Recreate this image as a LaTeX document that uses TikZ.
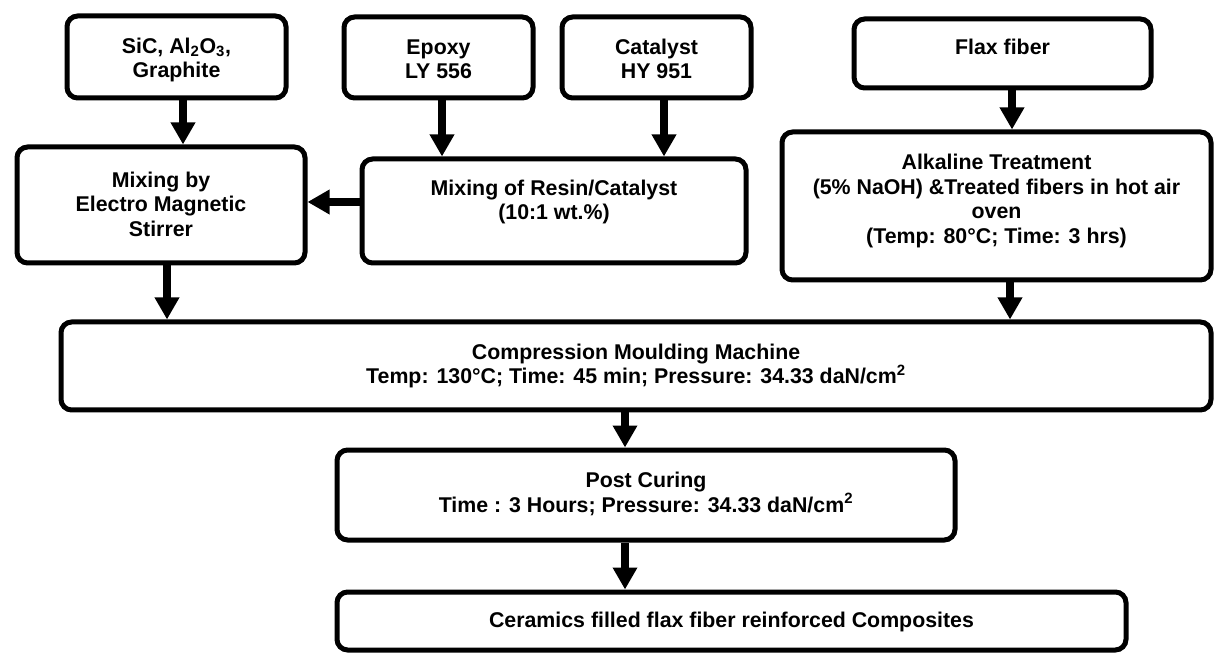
\documentclass[tikz,border=0pt]{standalone}
\usepackage{fontspec}
\setmainfont{Liberation Sans}
\usetikzlibrary{arrows.meta,fit}
\begin{document}
\begin{tikzpicture}[x=0.75pt,y=-0.75pt,
  box/.style={draw=black, line width=3.75pt, rounded corners=8pt, inner sep=0pt, fill=white},
  txt/.style={font=\bfseries\fontsize{16}{18.3}\selectfont, align=center, inner sep=0pt},
  flow/.style={draw=black, line width=6.4pt, -{Triangle[length=16.5pt,width=17.5pt]}}]
\useasboundingbox (0,0) rectangle (1216,655);

% raw materials
\node[box, fit={(67,16)(286,98)}] (sic) {};
\node[txt] (sic-t) at (176.5,60) {SiC, Al\textsubscript{2}O\textsubscript{3},\\Graphite};
\node[box, fit={(344,17)(533,98)}] (epoxy) {};
\node[txt] (epoxy-t) at (438.5,59) {Epoxy\\LY 556};
\node[box, fit={(562,17)(751,98)}] (cat) {};
\node[txt] (cat-t) at (656.5,59) {Catalyst\\HY 951};
\node[box, fit={(854,19)(1151,88)}] (flax) {};
\node[txt] (flax-t) at (1002.5,47) {Flax fiber};

% preparation steps
\node[box, fit={(17,147)(305,263)}] (mixems) {};
\node[txt] (mixems-t) at (161,204) {Mixing by\\Electro Magnetic\\Stirrer};
\node[box, fit={(362,159)(746,263)}] (mixres) {};
\node[txt] (mixres-t) at (554,202) {Mixing of Resin/Catalyst\\(10:1 wt.\%)};
\node[box, fit={(782,132)(1211,280)}] (alk) {};
\node[txt] (alk-t) at (996.5,201) {Alkaline Treatment\\(5\% NaOH) \&Treated fibers in hot air\\oven\\(Temp: 80°C; Time: 3 hrs)};

% processing
\node[box, fit={(61,322)(1211,410)}] (comp) {};
\node[txt] (comp-t) at (636,366) {Compression Moulding Machine\\Temp: 130°C; Time: 45 min; Pressure: 34.33 daN/cm\textsuperscript{2}};
\node[box, fit={(337,450)(955,540)}] (post) {};
\node[txt] (post-t) at (646,494) {Post Curing\\Time : 3 Hours; Pressure: 34.33 daN/cm\textsuperscript{2}};
\node[box, fit={(337,592)(1126,650)}] (cer) {};
\node[txt] (cer-t) at (731.5,622) {Ceramics filled flax fiber reinforced Composites};

% connectors
\draw[flow] ([xshift=4.875pt]sic.south) -- ([xshift=4.875pt]sic.south |- mixems.north);
\draw[flow] ([xshift=2.625pt]epoxy.south) -- ([xshift=2.625pt]epoxy.south |- mixres.north);
\draw[flow] ([xshift=5.625pt]cat.south) -- ([xshift=5.625pt]cat.south |- mixres.north);
\draw[flow] ([yshift=6.75pt]mixres.west) -- ([yshift=6.75pt]mixres.west -| mixems.east);
\draw[flow] ([xshift=7.125pt]flax.south) -- ([xshift=7.125pt]flax.south |- alk.north);
\draw[flow] ([xshift=4.5pt]mixems.south) -- ([xshift=4.5pt]mixems.south |- comp.north);
\draw[flow] ([xshift=10.125pt]alk.south) -- ([xshift=10.125pt]alk.south |- comp.north);
\draw[flow] ([xshift=-8.25pt]comp.south) -- ([xshift=-8.25pt]comp.south |- post.north);
\draw[flow] ([xshift=-15.75pt]post.south) -- ([xshift=-15.75pt]post.south |- cer.north);
\end{tikzpicture}
\end{document}
